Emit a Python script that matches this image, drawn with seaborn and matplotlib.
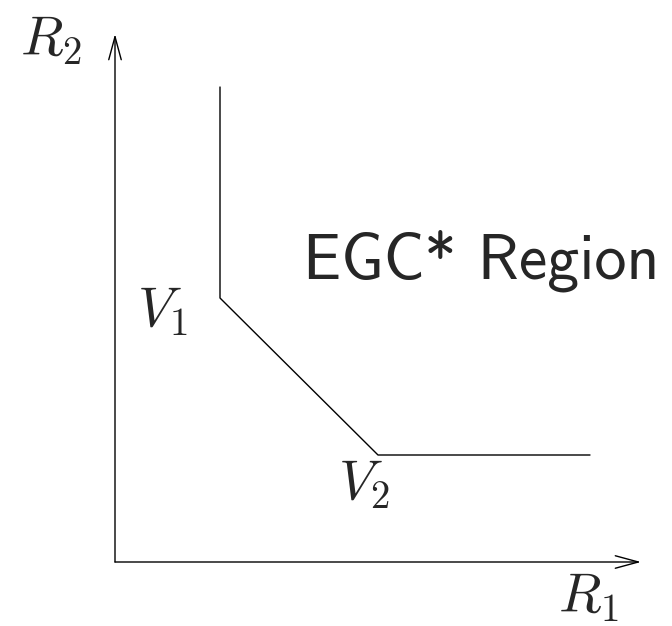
import matplotlib
matplotlib.use("Agg")
import matplotlib.pyplot as plt
import seaborn as sns
import pandas as pd

# Corner points of the achievable-rate boundary (R1, R2)
r1_boundary = [2.1, 2.1, 5.26, 9.5]
r2_boundary = [9.5, 5.28, 2.14, 2.14]
vertex_labels = [r"$V_{\mathsf{1}}$", r"$V_{\mathsf{2}}$"]
axis_labels = [r"$R_{\mathsf{1}}$", r"$R_{\mathsf{2}}$"]
region_label = "EGC* Region"

sns.set_theme(style="white")
plt.rcParams["mathtext.fontset"] = "cm"

fig = plt.figure(figsize=(6.72, 6.26), dpi=100)
ax = fig.add_axes([0, 0, 1, 1])
ax.set_xlim(-2.3, 11.14)
ax.set_ylim(-1.28, 11.24)
ax.set_axis_off()

df = pd.DataFrame({"R1": r1_boundary, "R2": r2_boundary})
sns.lineplot(data=df, x="R1", y="R2", sort=False, estimator=None,
             color="black", linewidth=1.0, ax=ax, legend=False)

# Coordinate axes with open arrow heads
arrow = dict(arrowstyle="->,head_length=1.66,head_width=0.45",
             mutation_scale=10, lw=1.0, color="black",
             shrinkA=0, shrinkB=0)
ax.annotate("", xy=(10.52, 0), xytext=(0, 0), arrowprops=arrow)
ax.annotate("", xy=(0, 10.56), xytext=(0, 0), arrowprops=arrow)

ax.text(-1.28, 10.43, axis_labels[1], fontsize=40, ha="center", va="center")
ax.text(9.47, -0.72, axis_labels[0], fontsize=40, ha="center", va="center")
ax.text(0.95, 5.0, vertex_labels[0], fontsize=40, ha="center", va="center")
ax.text(4.97, 1.55, vertex_labels[1], fontsize=40, ha="center", va="center")
ax.text(7.32, 6.03, region_label, fontsize=46, family="cmss10",
        ha="center", va="center")

fig.savefig("out.png", dpi=100)
